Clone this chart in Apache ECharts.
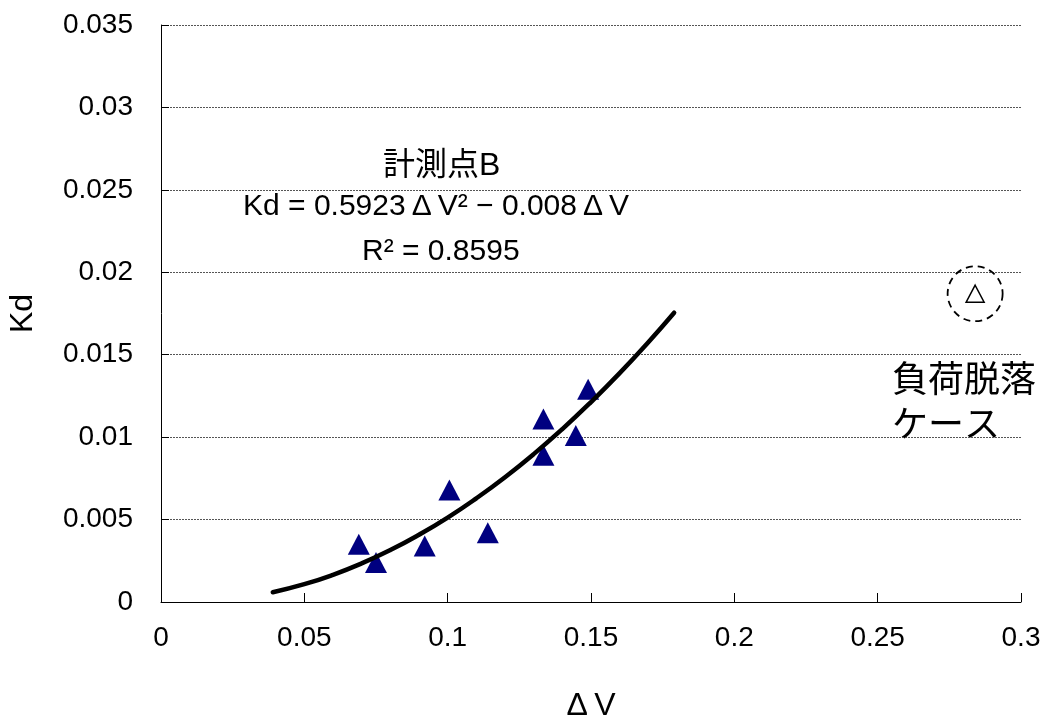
<!DOCTYPE html>
<html>
<head>
<meta charset="utf-8">
<script src="https://cdn.jsdelivr.net/npm/echarts@6/dist/echarts.min.js"></script>
<style>
html,body{margin:0;padding:0;background:#fff;}
#chart{width:1044px;height:719px;}
</style>
</head>
<body>
<div id="chart"></div>
<script>
// measured points (ΔV, Kd)
const pointsDV = [0.069, 0.075, 0.092, 0.1006, 0.114, 0.1334, 0.1334, 0.1447, 0.149];
const pointsKd = [0.0035, 0.0024, 0.0034, 0.0068, 0.0042, 0.0111, 0.0089, 0.0101, 0.0129];
// load-drop case (outlier)
const outlierDV = [0.284];
const outlierKd = [0.0187];
// trend curve
const trendDV = [0.039, 0.05, 0.06, 0.07, 0.08, 0.09, 0.10, 0.11, 0.12, 0.13, 0.14, 0.15, 0.16, 0.17, 0.179];
const trendKd = [0.00059, 0.00108, 0.00165, 0.00234, 0.00315, 0.00408, 0.00512, 0.00629, 0.00757, 0.00897, 0.01049, 0.01213, 0.01388, 0.01576, 0.01755];

const FONT = "'Liberation Sans', 'Noto Sans CJK JP', sans-serif";
const pair = (xs, ys) => xs.map((x, i) => [x, ys[i]]);

const chart = echarts.init(document.getElementById('chart'));
chart.setOption({
  animation: false,
  backgroundColor: '#fff',
  grid: {left: 161, right: 23, top: 25, bottom: 117, containLabel: false, outerBoundsMode: 'none'},
  xAxis: {
    type: 'value', min: 0, max: 0.3, interval: 0.05,
    name: 'Δ\u2009V', nameLocation: 'middle', nameGap: 88,
    nameTextStyle: {fontFamily: FONT, fontSize: 32, color: '#000'},
    axisLine: {show: true, lineStyle: {color: '#000', width: 1}},
    axisTick: {show: true, inside: true, length: 9, lineStyle: {color: '#000'}},
    axisLabel: {fontFamily: FONT, fontSize: 28, color: '#000', margin: 22,
      formatter: v => String(+v.toFixed(2))},
    splitLine: {show: false}
  },
  yAxis: {
    type: 'value', min: 0, max: 0.035, interval: 0.005,
    name: 'Kd', nameLocation: 'middle', nameGap: 122,
    nameTextStyle: {fontFamily: FONT, fontSize: 32, color: '#000'},
    axisLine: {show: true, lineStyle: {color: '#000', width: 1}},
    axisTick: {show: true, inside: true, length: 8, lineStyle: {color: '#000'}},
    axisLabel: {fontFamily: FONT, fontSize: 28, color: '#000', margin: 28,
      formatter: v => String(+v.toFixed(3))},
    splitLine: {show: true, lineStyle: {color: '#555', type: [2, 1], width: 1}}
  },
  series: [
    {
      type: 'line', data: pair(trendDV, trendKd), smooth: true, showSymbol: false,
      lineStyle: {color: '#000', width: 4.5, cap: 'round'}, z: 3
    },
    {
      type: 'scatter', data: pair(pointsDV, pointsKd), symbol: 'triangle', symbolSize: [22, 21],
      itemStyle: {color: '#000080', opacity: 1}, z: 2
    },
    {
      type: 'scatter', data: pair(outlierDV, outlierKd), symbol: 'triangle', symbolSize: [18, 17],
      itemStyle: {color: '#fff', borderColor: '#000', borderWidth: 1.5, opacity: 1}, z: 4
    },
    {
      type: 'scatter', data: pair(outlierDV, outlierKd), symbol: 'circle', symbolSize: 55,
      itemStyle: {color: 'rgba(0,0,0,0)', borderColor: '#000', borderWidth: 1.8, borderType: [7, 5], opacity: 1}, z: 4
    }
  ],
  graphic: [
    {type: 'text', left: 383, top: 150, style: {text: '計測点B', fontFamily: FONT, fontSize: 32, fill: '#000'}},
    {type: 'text', left: 243, top: 192, style: {text: 'Kd = 0.5923\u2009Δ\u2009V² − 0.008\u2009Δ\u2009V', fontFamily: FONT, fontSize: 30, fill: '#000'}},
    {type: 'text', left: 362, top: 237, style: {text: 'R² = 0.8595', fontFamily: FONT, fontSize: 30, fill: '#000'}},
    {type: 'text', left: 892, top: 360, style: {text: '負荷脱落\nケース', fontFamily: FONT, fontSize: 36, lineHeight: 45, fill: '#000'}}
  ]
});
</script>
</body>
</html>
